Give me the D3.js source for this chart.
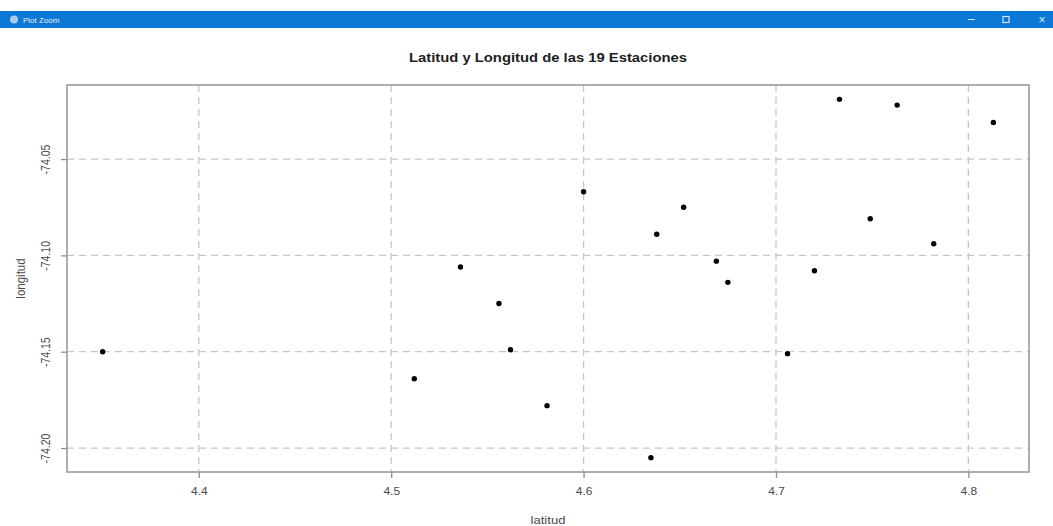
<!DOCTYPE html>
<html>
<head>
<meta charset="utf-8">
<script src="https://cdn.jsdelivr.net/npm/d3@7"></script>
<style>
    body { margin: 0; background: #fff; }
    #chart-area { width: 1053px; height: 526px; }
    text { font-family: "Liberation Sans", Arial, sans-serif; }
    .axis text { fill: #4a4a4a; font-size: 10.5px; }
    .axis line { stroke: #8f8f8f; stroke-width: 1.3; }
    .grid line { stroke: #c6c6c6; stroke-width: 1.3; stroke-dasharray: 7,5; }
</style>
</head>
<body>
<div id="chart-area"></div>
<script>

// station coordinates
let latitud  = [4.350, 4.536, 4.556, 4.562, 4.512, 4.581, 4.635, 4.600, 4.638, 4.652,
                4.669, 4.675, 4.706, 4.720, 4.733, 4.749, 4.763, 4.782, 4.813];
let longitud = [-74.150, -74.106, -74.125, -74.149, -74.164, -74.178, -74.205, -74.067, -74.089, -74.075,
                -74.103, -74.114, -74.151, -74.108, -74.019, -74.081, -74.022, -74.094, -74.031];

let xTicks = [4.4, 4.5, 4.6, 4.7, 4.8];
let yTicks = [-74.05, -74.10, -74.15, -74.20];

let titleText = 'Latitud y Longitud de las 19 Estaciones';
let xLabel = 'latitud';
let yLabel = 'longitud';

// the screenshot is a bit stretched sideways, text included
let stretch = 1.14;


class StationPlot {

    constructor(parentElement, lat, lon) {
        this.parentElement = parentElement;
        this.data = lat.map((d, i) => ({lat: d, lon: lon[i]}));
        this.initVis();
    }

    initVis() {
        let vis = this;

        vis.margin = {top: 85, right: 24, bottom: 54, left: 67};
        vis.totalWidth = 1053;
        vis.totalHeight = 526;
        vis.width = vis.totalWidth - vis.margin.left - vis.margin.right;
        vis.height = vis.totalHeight - vis.margin.top - vis.margin.bottom;

        vis.root = d3.select('#' + vis.parentElement).append('svg')
            .attr('width', vis.totalWidth)
            .attr('height', vis.totalHeight);

        vis.drawWindowBar();

        vis.svg = vis.root.append('g')
            .attr('transform', `translate (${vis.margin.left}, ${vis.margin.top})`);

        // R style: data range padded 4% on each side
        let xExt = d3.extent(vis.data, d => d.lat);
        let yExt = d3.extent(vis.data, d => d.lon);
        let xPad = (xExt[1] - xExt[0]) * 0.04;
        let yPad = (yExt[1] - yExt[0]) * 0.04;

        vis.xScale = d3.scaleLinear()
            .domain([xExt[0] - xPad, xExt[1] + xPad])
            .range([0, vis.width]);

        vis.yScale = d3.scaleLinear()
            .domain([yExt[0] - yPad, yExt[1] + yPad])
            .range([vis.height, 0]);

        // grid
        let grid = vis.svg.append('g').attr('class', 'grid');
        grid.selectAll('.vgrid').data(xTicks).enter().append('line')
            .attr('class', 'vgrid')
            .attr('x1', d => vis.xScale(d)).attr('x2', d => vis.xScale(d))
            .attr('y1', 0).attr('y2', vis.height);
        grid.selectAll('.hgrid').data(yTicks).enter().append('line')
            .attr('class', 'hgrid')
            .attr('x1', 0).attr('x2', vis.width)
            .attr('y1', d => vis.yScale(d)).attr('y2', d => vis.yScale(d));

        // axes (plain hyphen for the minus sign, like R)
        vis.xAxisGroup = vis.svg.append('g')
            .attr('class', 'axis x-axis')
            .attr('transform', `translate (0,${vis.height})`)
            .call(d3.axisBottom(vis.xScale).tickValues(xTicks).tickSize(6).tickPadding(10)
                .tickFormat(d => d.toFixed(1)));

        vis.yAxisGroup = vis.svg.append('g')
            .attr('class', 'axis y-axis')
            .call(d3.axisLeft(vis.yScale).tickValues(yTicks).tickSize(6)
                .tickFormat(d => d.toFixed(2)));

        vis.svg.selectAll('.axis .domain').remove();

        vis.xAxisGroup.selectAll('text')
            .attr('transform', `scale(${stretch},1)`);

        // y tick labels parallel to the axis
        vis.yAxisGroup.selectAll('text')
            .attr('x', 0).attr('y', 0).attr('dy', 0)
            .attr('text-anchor', 'middle')
            .attr('transform', `translate(-17,0) rotate(-90) scale(1,${stretch})`);

        // points
        vis.svg.selectAll('circle').data(vis.data).enter().append('circle')
            .attr('cx', d => vis.xScale(d.lat))
            .attr('cy', d => vis.yScale(d.lon))
            .attr('r', 2.7)
            .attr('fill', '#000');

        // frame
        vis.svg.append('rect')
            .attr('width', vis.width)
            .attr('height', vis.height)
            .attr('fill', 'none')
            .attr('stroke', '#9a9a9a')
            .attr('stroke-width', 1.6);

        // title + axis labels
        vis.root.append('text')
            .text(titleText)
            .attr('transform', `translate(${vis.margin.left + vis.width / 2}, 62) scale(${stretch},1)`)
            .attr('text-anchor', 'middle')
            .attr('font-weight', 'bold')
            .attr('font-size', 13)
            .attr('fill', '#1e1e1e');

        vis.root.append('text')
            .text(xLabel)
            .attr('transform', `translate(${vis.margin.left + vis.width / 2}, 524) scale(${stretch},1)`)
            .attr('text-anchor', 'middle')
            .attr('font-size', 11.5)
            .attr('fill', '#4a4a4a');

        vis.root.append('text')
            .text(yLabel)
            .attr('transform', `translate(25, ${vis.margin.top + vis.height / 2}) rotate(-90) scale(1,${stretch})`)
            .attr('text-anchor', 'middle')
            .attr('font-size', 11.5)
            .attr('fill', '#4a4a4a');
    }

    drawWindowBar() {
        let vis = this;

        // window chrome from the screenshot
        let bar = vis.root.append('g');
        bar.append('rect')
            .attr('x', 0).attr('y', 11)
            .attr('width', vis.totalWidth).attr('height', 17)
            .attr('fill', '#0a78d4');
        bar.append('circle')
            .attr('cx', 14).attr('cy', 19.5).attr('r', 4)
            .attr('fill', '#a9cdf0');
        bar.append('text')
            .text('Plot Zoom')
            .attr('x', 23).attr('y', 22.5)
            .attr('font-size', 8)
            .attr('fill', '#e6f0fb');
        bar.append('line')
            .attr('x1', 968).attr('x2', 975).attr('y1', 19.5).attr('y2', 19.5)
            .attr('stroke', '#d6e7f8').attr('stroke-width', 1);
        bar.append('rect')
            .attr('x', 1003).attr('y', 16.5).attr('width', 6).attr('height', 6)
            .attr('fill', 'none').attr('stroke', '#d6e7f8').attr('stroke-width', 1.2);
        bar.append('text')
            .text('\u00d7')
            .attr('x', 1042).attr('y', 23.5)
            .attr('text-anchor', 'middle')
            .attr('font-size', 12)
            .attr('fill', '#d6e7f8');
    }
}

let plot = new StationPlot('chart-area', latitud, longitud);

</script>
</body>
</html>
